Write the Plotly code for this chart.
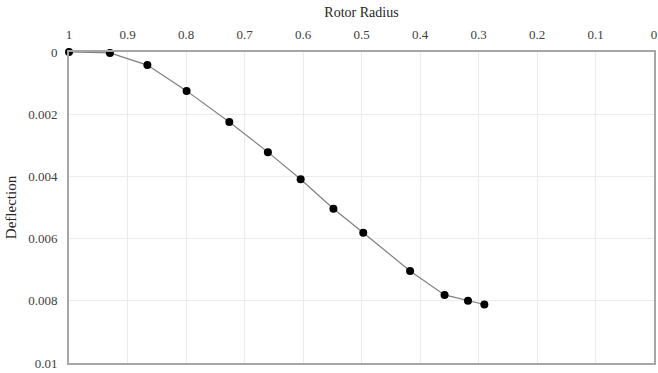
import plotly.graph_objects as go

radius = [1.0, 0.930, 0.866, 0.799, 0.726, 0.660, 0.604, 0.548, 0.497, 0.417, 0.358, 0.318, 0.290]
deflection = [0.0, 0.00003, 0.00042, 0.00125, 0.00225, 0.00322, 0.00409, 0.00504, 0.00581, 0.00704, 0.00781, 0.00800, 0.00812]

x_ticks = [1, 0.9, 0.8, 0.7, 0.6, 0.5, 0.4, 0.3, 0.2, 0.1, 0]
x_labels = ["1", "0.9", "0.8", "0.7", "0.6", "0.5", "0.4", "0.3", "0.2", "0.1", "0"]
y_ticks = [0, 0.002, 0.004, 0.006, 0.008, 0.01]
y_labels = ["0", "0.002", "0.004", "0.006", "0.008", "0.01"]

font = "Times New Roman, Liberation Serif, serif"

fig = go.Figure(go.Scatter(
    x=radius, y=deflection, mode="lines+markers",
    line=dict(color="#7f7f7f", width=1.2),
    marker=dict(color="black", size=8),
    cliponaxis=False,
))

fig.update_layout(
    width=658, height=373,
    margin=dict(l=69, r=1, t=52, b=10),
    paper_bgcolor="white", plot_bgcolor="white",
    showlegend=False,
    font=dict(family=font, size=13, color="#404040"),
    xaxis=dict(
        range=[1, 0], side="top", tickvals=x_ticks, ticktext=x_labels,
        showgrid=True, gridcolor="#ebebeb", gridwidth=1,
        showline=True, linecolor="#a6a6a6", linewidth=2, mirror=True,
        zeroline=False, ticks="", ticklabelstandoff=6, ticklabeloverflow="allow",
        title=dict(text="Rotor Radius", font=dict(family=font, size=14, color="#262626"), standoff=6),
        tickfont=dict(family=font, size=13, color="#404040"),
    ),
    yaxis=dict(
        range=[0.01, 0], tickvals=y_ticks, ticktext=y_labels,
        showgrid=True, gridcolor="#ebebeb", gridwidth=1,
        showline=True, linecolor="#a6a6a6", linewidth=2, mirror=True,
        zeroline=False, ticks="", ticklabelstandoff=7,
        title=dict(text="Deflection", font=dict(family=font, size=15, color="#262626"), standoff=8),
        tickfont=dict(family=font, size=13, color="#404040"),
    ),
)

fig.write_html("out.html")
